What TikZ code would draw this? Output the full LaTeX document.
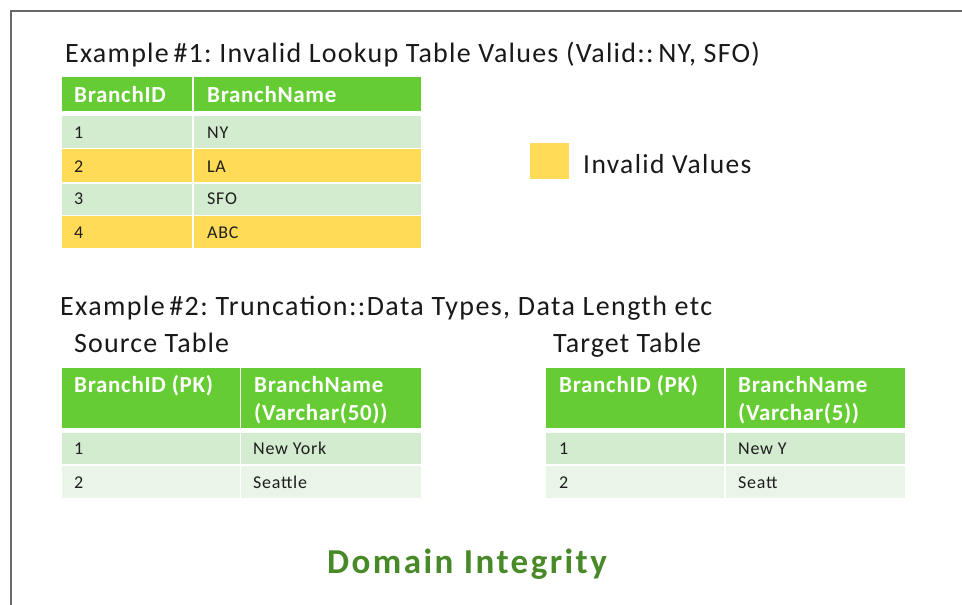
\documentclass[tikz,border=0pt]{standalone}
\usepackage{fontspec}
\setmainfont{Carlito}
\definecolor{hdrgreen}{RGB}{102,204,51}
\definecolor{rowgreen}{RGB}{211,235,207}
\definecolor{rowlight}{RGB}{233,245,231}
\definecolor{invyellow}{RGB}{255,219,87}
\definecolor{framegray}{RGB}{105,105,105}
\definecolor{titlegreen}{RGB}{72,138,40}
\definecolor{bodytext}{RGB}{30,30,30}
\tikzset{
  cellbox/.style={inner sep=0pt, anchor=north west, minimum width=#1},
  hdrtxt/.style={anchor=base west, inner sep=0pt, text=white, font=\fontsize{23}{28}\selectfont\bfseries\addfontfeature{LetterSpace=3}},
  bodytxt/.style={anchor=base west, inner sep=0pt, text=bodytext, font=\fontsize{18}{20}\selectfont\addfontfeature{LetterSpace=4}},
  bigtxt/.style={anchor=base west, inner sep=0pt, text=black!90, font=\fontsize{28}{32}\selectfont\addfontfeature{LetterSpace=4}},
}
\begin{document}
\begin{tikzpicture}[x=1pt,y=-1pt]
\useasboundingbox (0,0) rectangle (962,605);
\fill[white] (0,0) rectangle (962,605);
\coordinate (ftop) at (962,11);
\coordinate (fcorner) at (11,11);
\coordinate (fbot) at (11,605);
\draw[framegray, line width=1.6pt] (ftop) -- (fcorner) -- (fbot);

% ---------- Example 1 ----------
\node[bigtxt, font=\fontsize{28}{32}\selectfont\addfontfeature{LetterSpace=4.5}] (title1) at (65,62) {Example\,\#1:\ Invalid Lookup Table Values (Valid::\,NY, SFO)};

% table 1 cells
\node[cellbox=130, minimum height=34, fill=hdrgreen] (a0) at (62,77) {};
\node[cellbox=227, minimum height=34, fill=hdrgreen] (b0) at (194,77) {};
\node[cellbox=130, minimum height=32, fill=rowgreen] (a1) at (62,116) {};
\node[cellbox=227, minimum height=32, fill=rowgreen] (b1) at (194,116) {};
\node[cellbox=130, minimum height=33, fill=invyellow] (a2) at (62,149) {};
\node[cellbox=227, minimum height=33, fill=invyellow] (b2) at (194,149) {};
\node[cellbox=130, minimum height=31, fill=rowgreen] (a3) at (62,184) {};
\node[cellbox=227, minimum height=31, fill=rowgreen] (b3) at (194,184) {};
\node[cellbox=130, minimum height=32, fill=invyellow] (a4) at (62,216) {};
\node[cellbox=227, minimum height=32, fill=invyellow] (b4) at (194,216) {};

\node[hdrtxt] at (74,102) {BranchID};
\node[hdrtxt] at (207,102) {BranchName};
\node[bodytxt] at (74,138) {1};
\node[bodytxt] at (207,138) {NY};
\node[bodytxt] at (74,172) {2};
\node[bodytxt] at (207,172) {LA};
\node[bodytxt] at (74,204) {3};
\node[bodytxt] at (207,204) {SFO};
\node[bodytxt] at (74,238) {4};
\node[bodytxt] at (207,238) {ABC};

% legend
\node[cellbox=39, minimum height=36, fill=invyellow] (leg) at (530,143) {};
\node[bigtxt, font=\fontsize{27.5}{30}\selectfont\addfontfeature{LetterSpace=5}] (legtxt) at (583,173) {Invalid Values};

% ---------- Example 2 ----------
\node[bigtxt, font=\fontsize{28}{32}\selectfont\addfontfeature{LetterSpace=5}] (title2) at (60,315) {Example\,\#2:\ Truncation::Data Types, Data Length etc};
\node[bigtxt] (srctitle) at (74,352) {Source Table};
\node[bigtxt] (tgttitle) at (553,352) {Target Table};

% source table
\node[cellbox=178, minimum height=60, fill=hdrgreen] (s0a) at (62,368) {};
\node[cellbox=180, minimum height=60, fill=hdrgreen] (s0b) at (241,368) {};
\node[cellbox=178, minimum height=31, fill=rowgreen] (s1a) at (62,433) {};
\node[cellbox=180, minimum height=31, fill=rowgreen] (s1b) at (241,433) {};
\node[cellbox=178, minimum height=32, fill=rowlight] (s2a) at (62,466) {};
\node[cellbox=180, minimum height=32, fill=rowlight] (s2b) at (241,466) {};

\node[hdrtxt] at (74,392) {BranchID (PK)};
\node[hdrtxt] at (254,392) {BranchName};
\node[hdrtxt] at (254,420) {(Varchar(50))};
\node[bodytxt] at (74,454) {1};
\node[bodytxt] at (253,454) {New York};
\node[bodytxt] at (74,488) {2};
\node[bodytxt] at (253,488) {Seattle};

% target table
\node[cellbox=178, minimum height=60, fill=hdrgreen] (t0a) at (546,368) {};
\node[cellbox=179, minimum height=60, fill=hdrgreen] (t0b) at (726,368) {};
\node[cellbox=178, minimum height=31, fill=rowgreen] (t1a) at (546,433) {};
\node[cellbox=179, minimum height=31, fill=rowgreen] (t1b) at (726,433) {};
\node[cellbox=178, minimum height=32, fill=rowlight] (t2a) at (546,466) {};
\node[cellbox=179, minimum height=32, fill=rowlight] (t2b) at (726,466) {};

\node[hdrtxt] at (559,392) {BranchID (PK)};
\node[hdrtxt] at (738,392) {BranchName};
\node[hdrtxt] at (738,420) {(Varchar(5))};
\node[bodytxt] at (559,454) {1};
\node[bodytxt] at (738,454) {New Y};
\node[bodytxt] at (559,488) {2};
\node[bodytxt] at (738,488) {Seatt};

% ---------- footer ----------
\node[anchor=base west, inner sep=0pt, text=titlegreen, font=\fontsize{35}{38}\selectfont\bfseries\addfontfeature{LetterSpace=7}] (domain) at (327,573) {Domain Integrity};
\end{tikzpicture}
\end{document}
